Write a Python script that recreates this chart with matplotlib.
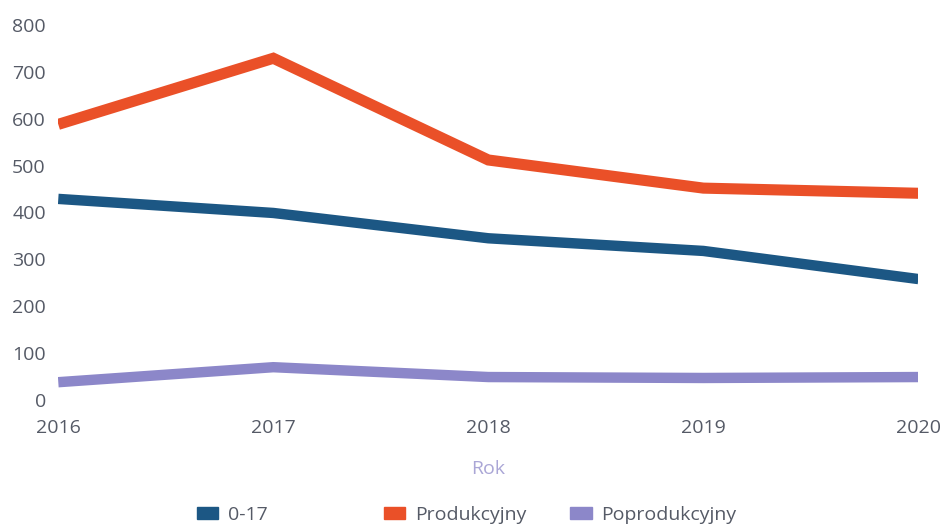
import matplotlib.pyplot as plt
from matplotlib.patches import Patch

plt.rcParams['font.family'] = ['Open Sans', 'DejaVu Sans']

years = [2016, 2017, 2018, 2019, 2020]
kids = [429, 399, 345, 318, 258]
working = [588, 729, 512, 452, 441]
retired = [38, 70, 49, 47, 49]
yticks = [0, 100, 200, 300, 400, 500, 600, 700, 800]

c_kids = '#1c5784'
c_work = '#ea5028'
c_ret = '#8c87c9'
grey = '#555a66'

fig = plt.figure(figsize=(9.4, 5.28), dpi=100)
ax = fig.add_axes([0.062, 0.2424, 0.915, 0.7103])

ax.plot(years, kids, color=c_kids, lw=7.5, solid_capstyle='butt', solid_joinstyle='miter')
ax.plot(years, working, color=c_work, lw=8, solid_capstyle='butt', solid_joinstyle='miter')
ax.plot(years, retired, color=c_ret, lw=7.5, solid_capstyle='butt', solid_joinstyle='miter')

ax.set_xlim(2016, 2020)
ax.set_ylim(0, 800)
ax.set_yticks(yticks)
ax.set_xticks(years)
ax.tick_params(length=0, labelsize=14, labelcolor=grey)
ax.tick_params(axis='y', pad=9)
ax.tick_params(axis='x', pad=14)
for s in ax.spines.values():
    s.set_visible(False)
ax.set_xlabel('Rok', color='#aaa6d6', fontsize=14, labelpad=16)

names = ['0-17', 'Produkcyjny', 'Poprodukcyjny']
colors = [c_kids, c_work, c_ret]
xpos = [0.247, 0.484, 0.695]
for n, c, x in zip(names, colors, xpos):
    fig.legend(handles=[Patch(color=c)], labels=[n], loc='center',
               bbox_to_anchor=(x, 0.025), frameon=False, fontsize=14,
               handlelength=1.1, handleheight=0.55, handletextpad=0.5,
               labelcolor=grey)

fig.savefig('out.png', dpi=100)
